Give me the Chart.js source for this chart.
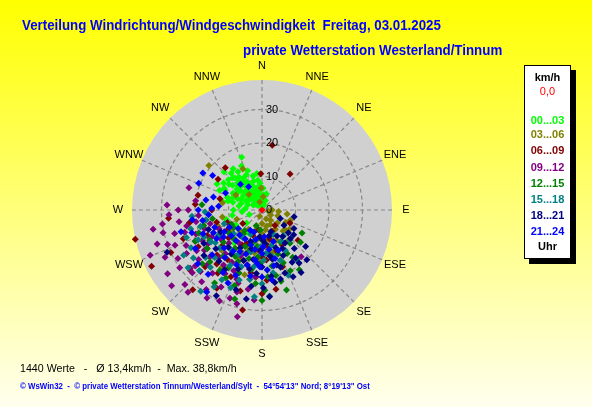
<!DOCTYPE html>
<html>
<head>
<meta charset="utf-8">
<script src="https://cdn.jsdelivr.net/npm/chart.js@4.4.1/dist/chart.umd.min.js"></script>
<style>
  html, body { margin: 0; padding: 0; }
  body { width: 592px; height: 407px; overflow: hidden;
         background: linear-gradient(to bottom, #ffff00 0%, #ffffee 100%);
         font-family: "Liberation Sans", Arial, sans-serif; }
  #wrap { position: relative; width: 592px; height: 407px; }
  #polar { position: absolute; left: 0; top: 0; }
  .txt { position: absolute; white-space: pre; transform-origin: 0 0; line-height: 1; }
  #title1 { left: 22px; top: 18px; font-size: 14px; font-weight: bold; color: #0000ff; }
  #title2 { left: 243px; top: 43px; font-size: 14px; font-weight: bold; color: #0000ff; }
  #foot1 { left: 20px; top: 363px; font-size: 11px; color: #000; }
  #foot2 { left: 20px; top: 382px; font-size: 9px; font-weight: bold; color: #0000ff; }
  #legendBox { position: absolute; left: 524px; top: 65px; width: 45px; height: 192px;
               background: #fff; border: 1px solid #000; box-shadow: 5px 5px 0 #000; }
  #legendBox div { position: absolute; left: 0; width: 45px; text-align: center;
                   font-size: 11px; font-weight: bold; line-height: 12px; }
</style>
</head>
<body>
<div id="wrap">
  <canvas id="polar" width="592" height="407"></canvas>
  <div class="txt" id="title1">Verteilung Windrichtung/Windgeschwindigkeit  Freitag, 03.01.2025</div>
  <div class="txt" id="title2">private Wetterstation Westerland/Tinnum</div>
  <div class="txt" id="foot1">1440 Werte   -   Ø 13,4km/h  -  Max. 38,8km/h</div>
  <div class="txt" id="foot2">© WsWin32  -  © private Wetterstation Tinnum/Westerland/Sylt  -  54°54'13" Nord; 8°19'13" Ost</div>
  <div id="legendBox"></div>
</div>
<script>
// Scale
const maxSpeed = 38.8;
const ringTicks = [0, 10, 20, 30];
const directions = ["N", "NNE", "NE", "ENE", "E", "ESE", "SE", "SSE",
                    "S", "SSW", "SW", "WSW", "W", "WNW", "NW", "NNW"];

// Legend / groups
const groupLabels = ["00...03", "03...06", "06...09", "09...12", "12...15", "15...18", "18...21", "21...24"];
const groupColors = ["#00ff00", "#808000", "#800000", "#800080", "#008000", "#008080", "#000080", "#0000ff"];

// Readings [direction in degrees, speed km/h]
const calm = [[0, 0]];
const h00 = [[339,16.9],[335,14.5],[300,15.5],[305,14],[318,13],[325,12],[310,11.5],[330,11],[345,10.5],[352,9],
  [320,9.5],[300,10],[290,11],[312,8.5],[328,8],[340,7.5],[355,6],[348,5],[335,5.5],[322,6.5],[308,7],[295,8],
  [285,9],[280,7],[300,5.5],[315,4.5],[330,3.5],[345,3],[358,2.5],[10,2],[20,3],[300,3],[290,4.5],[275,5],
  [340,12.5],[325,15],[315,16],[332,9.5],[318,7.5],[305,9],[350,7],[5,4.5],[270,8.5],[265,6],[310,3],[338,1.5],
  [250,4],[230,6],[210,8],[200,11],[240,9],[220,13],[322,11],[312,13.5],[298,12.5],[335,8.5],[344,9],[326,4.5],
  [315,10],[320,12.5],[328,13.5],[336,11.5],[342,6],[350,4],[356,8],[3,6.5],[8,3.5],[330,6.5],[325,9],[315,6],
  [305,5],[298,7],[292,9.5],[288,6.5],[310,9.8],[318,10.8],[333,2.5],[345,1.5],[352,11],[300,13],[308,12.5],
  [327,10.2],[340,4.5],[350,5.8],[316,2],[285,10.5],[295,14],[320,14.3],[282,12],[260,9],[255,11],[15,5],[22,1.5]];
const h03 = [[335,13.5],[310,20.7],[358,6.6],[99,7.6],[135,8.9],[5,4],[90,3],[110,5],[130,6],[150,5],[160,8],
  [170,6],[180,4],[200,5],[190,9],[175,11],[155,10],[145,7],[120,3],[100,2],[215,7],[230,9],[250,8],[260,12],
  [240,14],[205,14],[185,15],[165,13],[140,12],[125,10],[210,18],[195,20],[225,17],[255,19],[320,6],[300,9],
  [280,12],[345,2.5],[200,2],[118,8],[170,9],[185,11],[200,12],[210,10],[220,12],[180,7],[165,5],[155,3],
  [140,4],[130,9],[195,6],[205,16],[215,21],[235,11],[245,16],[175,18],[160,16],[190,13],[225,9],[250,14],
  [110,9],[95,5]];
const h06 = [[257,38.8],[243,37],[221,31.5],[191,30.4],[9,19.6],[38,13.6],[319,16.7],[358,10.8],[305,16],
  [283,19.6],[176,21],[115,9.2],[260,22],[250,25],[235,20],[225,24],[215,18],[205,22],[195,17],[185,12],
  [175,15],[165,9],[150,12],[140,6],[200,8],[220,10],[240,12],[255,14],[270,15],[285,13],[230,28],[210,27],
  [245,30],[265,28],[180,25],[160,18],[130,14],[235,7],[215,14],[190,6],[228,16],[205,11],[245,18],[235,15],
  [225,19],[215,23],[200,16],[190,19],[180,14],[170,11],[160,13],[155,7],[240,22],[250,11],[260,17],[275,20],
  [230,13],[220,21],[210,12],[195,25],[185,20],[170,24]];
const h09 = [[273,28.4],[267,27.8],[257,30.3],[252,32.9],[244,32.2],[231,27.6],[230,35.2],[212,31],[197,25.6],
  [193,32.7],[140,18.2],[287,22.8],[262,25],[255,27],[248,28],[240,26],[235,30],[225,26],[220,28],[215,29],
  [205,30],[200,28],[195,29],[250,21],[245,22],[238,23],[232,24],[260,20],[270,22],[278,20],[228,21],[222,19],
  [210,22],[200,22],[190,24],[255,16],[242,17],[234,15],[225,14],[215,12],[205,15],[260,33],[236,34],[226,32],
  [248,36],[262,30],[254,24],[218,24],[208,26],[186,20],[238,19],[220,17],[245,25],[240,29],[230,26],[225,23],
  [215,20],[210,18],[250,30],[258,23],[265,19],[270,25],[235,21],[228,28],[222,33],[243,20],[252,18],[246,14],
  [232,12],[205,20],[198,23],[185,27]];
const h12 = [[197,27.8],[163,25],[120,13.8],[147,16.8],[175,20],[185,22],[170,17],[160,14],[150,11],[190,18],
  [200,20],[210,16],[220,18],[230,15],[240,18],[250,20],[205,12],[195,10],[185,14],[180,9],[215,22],[225,22],
  [235,12],[245,10],[260,15],[275,18],[180,27],[200,24],[213,26],[165,22],[155,20],[130,15],[140,13],[185,6],
  [200,5],[220,8],[210,20],[195,15],[205,17],[215,14],[225,12],[235,20],[245,22],[255,18],[190,21],[182,16],
  [172,13],[168,20],[158,17],[150,15],[198,13],[208,23],[218,9],[228,24],[238,10],[188,11],[178,24],[148,21]];
const h15 = [[217,30.4],[175,25.8],[137,12.2],[240,27],[235,25],[230,22],[225,20],[250,24],[255,22],[245,19],
  [240,15],[235,17],[220,15],[210,19],[200,18],[190,21],[185,26],[180,22],[170,19],[160,16],[150,14],[145,18],
  [140,10],[215,10],[205,8],[230,11],[250,12],[260,17],[265,21],[195,13],[175,13],[165,11],[155,8],[226,26],
  [210,24],[245,21],[238,18],[228,17],[218,18],[208,15],[198,22],[188,17],[178,15],[168,14],[158,21],[148,11],
  [232,28],[222,23],[212,27],[202,25],[192,9],[182,11],[255,19],[268,17],[242,24]];
const h18 = [[246,31],[208,29],[179,23.3],[165,21.3],[145,19.3],[102,9.8],[131,10.4],[145,17.5],[155,15],
  [160,12],[165,17],[170,14],[175,10],[180,17],[185,19],[190,15],[195,12],[200,16],[170,22],[160,20],[150,18],
  [140,15],[135,12],[125,8],[115,6],[150,9],[165,8],[185,8],[200,10],[210,13],[220,20],[230,18],[240,20],
  [250,17],[175,26],[155,22],[130,17],[145,12],[190,27],[215,16],[168,15],[162,18],[152,13],[142,10],[158,7],
  [172,20],[182,12],[192,18],[202,19],[212,21],[222,15],[232,22],[242,14],[178,9],[188,23],[198,25],[138,20],
  [128,12],[120,11],[148,22]];
const h21 = [[214,29.5],[302,20.8],[293,20.5],[305,18],[280,17],[270,19],[260,18],[250,15],[245,16],[240,13],
  [235,14],[230,12],[225,16],[220,12],[215,15],[210,10],[205,18],[200,14],[195,17],[190,12],[185,16],[180,13],
  [175,18],[170,12],[165,15],[160,10],[175,8],[190,20],[205,24],[220,25],[230,25],[240,23],[255,25],[265,16],
  [275,13],[285,15],[295,12],[320,10],[330,8],[200,7],[180,20],[210,7],[248,19],[238,16],[228,20],[218,18],
  [208,14],[198,11],[188,15],[178,11],[168,17],[158,13],[232,9],[242,11],[252,22],[262,21],[272,15],[212,22],
  [222,10],[202,21],[192,9],[182,17],[172,21]];
const groups = [h00, h03, h06, h09, h12, h15, h18, h21];

// direction/speed -> x/y in km/h
function toXY(list) {
  return list.map(([dir, speed]) => ({
    x: speed * Math.sin(dir * Math.PI / 180),
    y: speed * Math.cos(dir * Math.PI / 180)
  }));
}

const datasets = groups.map((g, i) => ({
  label: groupLabels[i],
  data: toXY(g),
  backgroundColor: groupColors[i],
  borderColor: groupColors[i],
  borderWidth: 0,
  pointStyle: "rectRot",
  pointRadius: 3.5,
  order: 7 - i
}));
datasets.push({
  label: "0,0", data: toXY(calm), backgroundColor: "#ff0000", borderColor: "#ff0000",
  borderWidth: 0, pointStyle: "rectRot", pointRadius: 3.5, order: -1
});

// Grey disc, dashed rings and spokes, direction labels
const polarGrid = {
  id: "polarGrid",
  beforeDatasetsDraw(chart) {
    const { ctx, scales: { x, y } } = chart;
    const cx = x.getPixelForValue(0), cy = y.getPixelForValue(0);
    const R = x.getPixelForValue(maxSpeed) - cx;
    ctx.save();
    ctx.fillStyle = "#d0d0d0";
    ctx.beginPath();
    ctx.arc(cx, cy, R, 0, Math.PI * 2);
    ctx.fill();

    ctx.strokeStyle = "#888888";
    ctx.lineWidth = 1.2;
    ctx.setLineDash([4, 3]);
    ringTicks.forEach(v => {
      if (v === 0) return;
      const r = x.getPixelForValue(v) - cx;
      ctx.beginPath();
      ctx.arc(cx, cy, r, 0, Math.PI * 2);
      ctx.stroke();
    });
    directions.forEach((d, i) => {
      const a = i * 22.5 * Math.PI / 180;
      ctx.beginPath();
      ctx.moveTo(cx, cy);
      ctx.lineTo(cx + R * Math.sin(a), cy - R * Math.cos(a));
      ctx.stroke();
    });
    ctx.setLineDash([]);

    ctx.fillStyle = "#000";
    ctx.font = "11px 'Liberation Sans', Arial, sans-serif";
    ctx.textAlign = "center";
    ctx.textBaseline = "middle";
    directions.forEach((d, i) => {
      const a = i * 22.5 * Math.PI / 180;
      const r = R + 14;
      ctx.fillText(d, cx + r * Math.sin(a), cy - r * Math.cos(a));
    });
    ctx.restore();
  },
  afterDatasetsDraw(chart) {
    const { ctx, scales: { x, y } } = chart;
    const cx = x.getPixelForValue(0);
    ctx.save();
    ctx.fillStyle = "#000";
    ctx.font = "11px 'Liberation Sans', Arial, sans-serif";
    ctx.textAlign = "left";
    ctx.textBaseline = "middle";
    ringTicks.forEach(v => {
      ctx.fillText(String(v), cx + 4, y.getPixelForValue(v));
    });
    ctx.restore();
  }
};

new Chart(document.getElementById("polar"), {
  type: "scatter",
  data: { datasets },
  options: {
    responsive: false,
    animation: false,
    layout: { padding: { left: 132, right: 200, top: 80, bottom: 67 } },
    scales: {
      x: { display: false, min: -maxSpeed, max: maxSpeed },
      y: { display: false, min: -maxSpeed, max: maxSpeed }
    },
    plugins: { legend: { display: false }, tooltip: { enabled: false } }
  },
  plugins: [polarGrid]
});

// Legend box on the right
const legendBox = document.getElementById("legendBox");
const legendRows = [["km/h", "#000", true], ["0,0", "#ff0000", false]]
  .concat(groupLabels.map((l, i) => [l, groupColors[i], true]));
const legendTops = [5, 19, 48, 62, 78, 95, 111, 127, 143, 159];
legendRows.forEach((row, i) => {
  const d = document.createElement("div");
  d.textContent = row[0];
  d.style.color = row[1];
  d.style.fontWeight = row[2] ? "bold" : "normal";
  d.style.top = legendTops[i] + "px";
  legendBox.appendChild(d);
});
const uhr = document.createElement("div");
uhr.textContent = "Uhr";
uhr.style.top = "174px";
legendBox.appendChild(uhr);

// squeeze text lines to the widths in the original
function fitWidth(id, w) {
  const el = document.getElementById(id);
  el.style.transform = "scaleX(" + (w / el.offsetWidth) + ")";
}
fitWidth("title1", 419);
fitWidth("title2", 259);
fitWidth("foot1", 217);
fitWidth("foot2", 350);
</script>
</body>
</html>
